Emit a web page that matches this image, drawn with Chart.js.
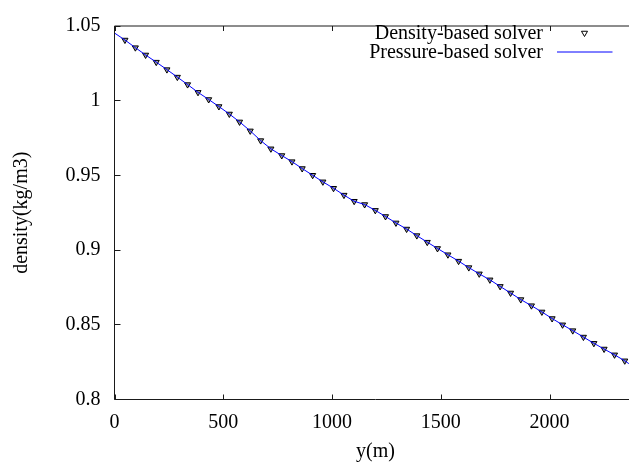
<!DOCTYPE html>
<html>
<head>
<meta charset="utf-8">
<title>density profile</title>
<script src="https://cdn.jsdelivr.net/npm/chart.js@4.4.1/dist/chart.umd.min.js"></script>
<style>
  html, body { margin: 0; padding: 0; background: #ffffff; overflow: hidden; }
  canvas { display: block; }
</style>
</head>
<body>
<canvas id="chart" width="645" height="466"></canvas>
<script>
// Height above ground (m) of the sampled cells
const heightM = [48, 96, 143, 192, 241, 289, 336, 384, 433, 480, 528, 575, 624, 672, 719, 769,
  816, 863, 911, 958, 1007, 1055, 1102, 1150, 1199, 1246, 1294, 1343, 1390, 1438, 1485, 1533,
  1582, 1629, 1677, 1726, 1773, 1821, 1868, 1917, 1965, 2012, 2060, 2107, 2156, 2204, 2251,
  2299, 2346];

// Density from the density-based solver (kg/m3)
const densitySolver = [1.0406, 1.0355, 1.0306, 1.0258, 1.0208, 1.0158, 1.0108, 1.0056, 1.0008,
  0.9961, 0.9911, 0.9858, 0.9798, 0.9733, 0.9678, 0.9633, 0.9592, 0.9546, 0.9501, 0.9457,
  0.9414, 0.9368, 0.9327, 0.9305, 0.9266, 0.9225, 0.9182, 0.9141, 0.9097, 0.9053, 0.9011,
  0.8969, 0.8926, 0.8883, 0.8841, 0.8801, 0.8757, 0.8713, 0.8669, 0.8628, 0.8586, 0.8542,
  0.8500, 0.8461, 0.8418, 0.8376, 0.8338, 0.8299, 0.8259];

// Pressure-based solver profile, from the ground up to the top of the domain
const pressureHeightM = [0, ...heightM, 2365];
const pressureSolver = [1.0453, ...densitySolver, 0.8240];

const seriesNames = ['Density-based solver', 'Pressure-based solver'];
const xTicks = [0, 500, 1000, 1500, 2000];
const yTicks = [0.8, 0.85, 0.9, 0.95, 1, 1.05];
const xTitle = 'y(m)';
const yTitle = 'density(kg/m3)';

const SERIF = '"Liberation Serif", "Times New Roman", serif';
const TEXT_SIZE = 20;

const toPoints = (xs, ys) => xs.map((x, i) => ({ x: x, y: ys[i] }));

// Frame with inward ticks on all four sides, plus the key in the top right corner
const framePlugin = {
  id: 'frame',
  afterDraw(chart) {
    const { ctx, chartArea: a, scales } = chart;
    const xTick = 5;
    const yTick = 6;
    ctx.save();
    ctx.strokeStyle = '#1a1a1a';
    ctx.lineWidth = 1;
    ctx.beginPath();
    ctx.rect(a.left, a.top, a.right - a.left, a.bottom - a.top);
    ctx.stroke();
    ctx.beginPath();
    xTicks.forEach(v => {
      const px = Math.round(scales.x.getPixelForValue(v)) + 0.5;
      ctx.moveTo(px, a.bottom); ctx.lineTo(px, a.bottom - xTick);
      ctx.moveTo(px, a.top); ctx.lineTo(px, a.top + xTick);
    });
    yTicks.forEach(v => {
      const py = Math.round(scales.y.getPixelForValue(v) - 0.5) + 0.5;
      ctx.moveTo(a.left, py); ctx.lineTo(a.left + yTick, py);
      ctx.moveTo(a.right, py); ctx.lineTo(a.right - yTick, py);
    });
    ctx.stroke();

    // key
    const ds = chart.data.datasets;
    ctx.font = TEXT_SIZE + 'px ' + SERIF;
    ctx.fillStyle = '#000';
    ctx.textAlign = 'right';
    ctx.textBaseline = 'alphabetic';
    const textRight = 543;
    const rows = [38.5, 58];
    ctx.fillText(ds[0].label, textRight, rows[0]);
    ctx.fillText(ds[1].label, textRight, rows[1]);

    ctx.fillStyle = '#ffffff';
    ctx.strokeStyle = ds[0].pointBorderColor;
    ctx.lineWidth = ds[0].pointBorderWidth;
    Chart.helpers.drawPoint(ctx, {
      pointStyle: ds[0].pointStyle,
      rotation: ds[0].pointRotation,
      radius: ds[0].pointRadius,
      borderWidth: ds[0].pointBorderWidth
    }, 584.5, 33);

    ctx.strokeStyle = ds[1].borderColor;
    ctx.lineWidth = ds[1].borderWidth;
    ctx.beginPath();
    ctx.moveTo(557, 52);
    ctx.lineTo(612.5, 52);
    ctx.stroke();
    ctx.restore();
  }
};

new Chart(document.getElementById('chart'), {
  type: 'scatter',
  data: {
    datasets: [
      {
        label: seriesNames[0],
        data: toPoints(heightM, densitySolver),
        showLine: false,
        pointStyle: 'triangle',
        pointRotation: 180,
        pointRadius: 3.5,
        pointBorderWidth: 1,
        pointBorderColor: '#000000',
        pointBackgroundColor: '#a0a0a0',
        order: 1
      },
      {
        label: seriesNames[1],
        data: toPoints(pressureHeightM, pressureSolver),
        showLine: true,
        borderColor: '#0000ff',
        borderWidth: 1,
        pointRadius: 0,
        tension: 0,
        order: 0
      }
    ]
  },
  options: {
    responsive: false,
    animation: false,
    devicePixelRatio: 1,
    layout: { padding: { top: 15.5, right: 8.5, left: 0, bottom: 0 } },
    plugins: {
      legend: { display: false },
      tooltip: { enabled: false }
    },
    scales: {
      x: {
        type: 'linear',
        min: 0,
        max: 2400,
        grid: { display: false, drawTicks: false },
        border: { display: false },
        afterBuildTicks: s => { s.ticks = xTicks.map(v => ({ value: v })); },
        afterFit: s => { s.height = 66.5; },
        ticks: {
          color: '#000',
          padding: 11,
          maxRotation: 0,
          font: { family: SERIF, size: TEXT_SIZE },
          callback: v => String(v)
        },
        title: {
          display: true,
          text: xTitle,
          color: '#000',
          padding: { top: 0, bottom: 2 },
          font: { family: SERIF, size: TEXT_SIZE }
        }
      },
      y: {
        type: 'linear',
        min: 0.8,
        max: 1.05,
        grid: { display: false, drawTicks: false },
        border: { display: false },
        afterBuildTicks: s => { s.ticks = yTicks.map(v => ({ value: v })); },
        afterFit: s => { s.width = 114.5; },
        ticks: {
          color: '#000',
          padding: 14,
          font: { family: SERIF, size: TEXT_SIZE },
          callback: v => String(Number(v.toFixed(2)))
        },
        title: {
          display: true,
          text: yTitle,
          color: '#000',
          padding: { top: 10, bottom: 0 },
          font: { family: SERIF, size: TEXT_SIZE }
        }
      }
    }
  },
  plugins: [framePlugin]
});
</script>
</body>
</html>
